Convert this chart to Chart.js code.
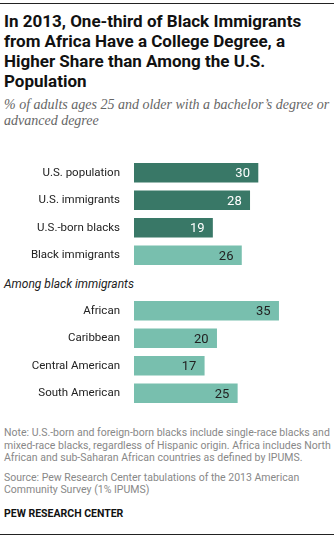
<!DOCTYPE html>
<html>
<head>
<meta charset="utf-8">
<script src="https://cdn.jsdelivr.net/npm/chart.js@4"></script>
<style>
  html, body { margin: 0; padding: 0; background: #fff; }
  #page { position: relative; width: 334px; height: 538px; overflow: hidden; font-family: Roboto, "Liberation Sans", sans-serif; }
  .rule { position: absolute; left: 0; width: 334px; height: 1px; background: #222; }
  #title { position: absolute; left: 4px; top: 11px; width: 326px; font-size: 17px; line-height: 20px; font-weight: 700; color: #111; }
  #subtitle { position: absolute; left: 4px; top: 97px; width: 326px; font-family: "Liberation Serif", serif; font-style: italic; font-size: 14px; line-height: 16px; color: #666; }
  #among { position: absolute; left: 4px; top: 277px; font-size: 12px; font-style: italic; color: #222; }
  .chart { position: absolute; left: 0; width: 334px; height: 110px; }
  #notes { position: absolute; left: 4px; top: 427px; width: 328px; font-size: 10.5px; line-height: 12.5px; color: #888; }
  #notes p { margin: 0 0 7px 0; }
  #brand { position: absolute; left: 4px; top: 507px; font-size: 10.5px; font-weight: 700; color: #111; }
</style>
</head>
<body>
<div id="page">
  <div class="rule" style="top:3px"></div>
  <div id="title">In 2013, One-third of Black Immigrants from Africa Have a College Degree, a Higher Share than Among the U.S. Population</div>
  <div id="subtitle">% of adults ages 25 and older with a bachelor’s degree or advanced degree</div>
  <div class="chart" style="top:159px"><canvas id="groupChart"></canvas></div>
  <div id="among">Among black immigrants</div>
  <div class="chart" style="top:297px"><canvas id="originChart"></canvas></div>
  <div id="notes">
    <p>Note: U.S.-born and foreign-born blacks include single-race blacks and mixed-race blacks, regardless of Hispanic origin. Africa includes North African and sub-Saharan African countries as defined by IPUMS.</p>
    <p>Source: Pew Research Center tabulations of the 2013 American Community Survey (1% IPUMS)</p>
  </div>
  <div id="brand">PEW RESEARCH CENTER</div>
  <div class="rule" style="top:534px"></div>
</div>
<script>
const groupCategories = ['U.S. population', 'U.S. immigrants', 'U.S.-born blacks', 'Black immigrants'];
const groupValues = [30, 28, 19, 26];
const originCategories = ['African', 'Caribbean', 'Central American', 'South American'];
const originValues = [35, 20, 17, 25];

const DARK = '#397867';
const LIGHT = '#78bfae';

// writes the value inside the end of each bar
const valueLabels = {
  id: 'valueLabels',
  afterDatasetsDraw(chart) {
    const ctx = chart.ctx;
    const ds = chart.data.datasets[0];
    chart.getDatasetMeta(0).data.forEach((bar, i) => {
      ctx.save();
      ctx.font = '13px Roboto, "Liberation Sans", sans-serif';
      ctx.fillStyle = ds.backgroundColor[i] === DARK ? '#fff' : '#222';
      ctx.textAlign = 'right';
      ctx.textBaseline = 'middle';
      ctx.fillText(ds.data[i], bar.x - 8, bar.y + 1);
      ctx.restore();
    });
  }
};

function makeChart(id, labels, values, colors) {
  return new Chart(document.getElementById(id), {
    type: 'bar',
    data: {
      labels: labels,
      datasets: [{ data: values, backgroundColor: colors, barThickness: 19 }]
    },
    options: {
      indexAxis: 'y',
      responsive: true,
      maintainAspectRatio: false,
      animation: false,
      layout: { padding: 0 },
      plugins: { legend: { display: false }, tooltip: { enabled: false } },
      scales: {
        x: { display: false, min: 0, max: 48.4 },
        y: {
          grid: { display: false },
          border: { display: false },
          ticks: {
            padding: 6,
            color: '#222',
            font: { family: 'Roboto, "Liberation Sans", sans-serif', size: 11.5 }
          },
          afterFit(scale) {
            // fixed label column, and no extra room above/below the bars
            scale.width = 134;
            scale.paddingTop = 0;
            scale.paddingBottom = 0;
          }
        }
      }
    },
    plugins: [valueLabels]
  });
}

makeChart('groupChart', groupCategories, groupValues, [DARK, DARK, DARK, LIGHT]);
makeChart('originChart', originCategories, originValues, [LIGHT, LIGHT, LIGHT, LIGHT]);
</script>
</body>
</html>
